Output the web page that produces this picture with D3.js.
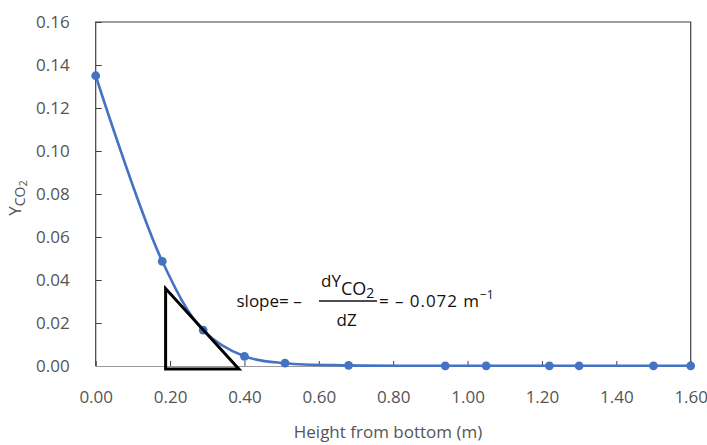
<!DOCTYPE html>
<html>
<head>
<meta charset="utf-8">
<script src="https://cdn.jsdelivr.net/npm/d3@7"></script>
<style>
  html, body { margin: 0; padding: 0; background: #fff; }
  svg { display: block; font-family: "Open Sans", "Noto Sans", sans-serif; }
</style>
</head>
<body>
<svg id="chart" width="707" height="445"></svg>
<script>
// Mole fraction of CO2 along the column height
const heights = [0.00, 0.179, 0.289, 0.40, 0.509, 0.68, 0.94, 1.05, 1.22, 1.30, 1.50, 1.60];
const yco2    = [0.135, 0.0487, 0.0167, 0.0045, 0.0013, 0.0003, 0.0001, 0.0001, 0.0001, 0.0001, 0.0001, 0.0001];

const xTicks = [0.00, 0.20, 0.40, 0.60, 0.80, 1.00, 1.20, 1.40, 1.60];
const yTicks = [0.00, 0.02, 0.04, 0.06, 0.08, 0.10, 0.12, 0.14, 0.16];

// Slope triangle drawn at the tangent point (x, y corners)
const triX = [0.188, 0.188, 0.385];
const triY = [0.036, -0.0014, -0.0014];

const W = 707, H = 445;
const m = { left: 95.7, right: W - 690.7, top: 22, bottom: H - 366 };

const svg = d3.select("#chart");
const x = d3.scaleLinear().domain([0, 1.6]).range([m.left, W - m.right]);
const y = d3.scaleLinear().domain([0, 0.16]).range([H - m.bottom, m.top]);

const grey = "#555";

// Plot frame: top, left and right edges
svg.append("path")
  .attr("d", `M${x(0)},${y(0)}V${y(0.16)}H${x(1.6)}V${y(0)}`)
  .attr("fill", "none").attr("stroke", "#404040").attr("stroke-width", 1.2);

// Y axis (ticks point into the plot)
const yAxis = d3.axisLeft(y).tickValues(yTicks).tickFormat(d3.format(".2f"))
  .tickSizeInner(-6).tickSizeOuter(0).tickPadding(26);
const gy = svg.append("g").attr("transform", `translate(${x(0)},0)`).call(yAxis);
gy.select(".domain").remove();
gy.selectAll(".tick line").attr("stroke", "#404040");
gy.selectAll(".tick text").attr("fill", grey).style("font-size", "17px")
  .attr("font-family", "'Open Sans', sans-serif");

// X axis
const xAxis = d3.axisBottom(x).tickValues(xTicks).tickFormat(d3.format(".2f"))
  .tickSizeInner(-5).tickSizeOuter(0).tickPadding(25);
const gx = svg.append("g").attr("transform", `translate(0,${y(0)})`).call(xAxis);
gx.select(".domain").attr("stroke", "#9a9a9a").attr("stroke-width", 1.2);
gx.selectAll(".tick line").attr("stroke", "#404040");
gx.selectAll(".tick text").attr("fill", grey).style("font-size", "17px")
  .attr("font-family", "'Open Sans', sans-serif");

// Axis titles
svg.append("text")
  .attr("x", 388).attr("y", 438)
  .attr("text-anchor", "middle").attr("fill", grey).style("font-size", "17px")
  .text("Height from bottom (m)");

const yt = svg.append("text")
  .attr("transform", `translate(21,${(y(0) + y(0.16)) / 2 + 4}) rotate(-90)`)
  .attr("text-anchor", "middle").attr("fill", grey).style("font-size", "17px");
yt.append("tspan").text("Y");
yt.append("tspan").attr("dy", 4).style("font-size", "14px").text("CO");
yt.append("tspan").attr("dy", 2).style("font-size", "11px").text("2");

// Data series: smoothed line and markers
const pts = heights.map((h, i) => [h, yco2[i]]);
const blue = "#4472C4";
svg.append("path")
  .datum(pts)
  .attr("fill", "none").attr("stroke", blue).attr("stroke-width", 2.6)
  .attr("d", d3.line().x(d => x(d[0])).y(d => y(d[1])).curve(d3.curveCatmullRom.alpha(0.5)));

svg.selectAll("circle.pt").data(pts).join("circle")
  .attr("class", "pt")
  .attr("cx", d => x(d[0])).attr("cy", d => y(d[1])).attr("r", 4.4)
  .attr("fill", blue);

// Slope triangle
const tri = triX.map((v, i) => [x(v), y(triY[i])]);
svg.append("path")
  .attr("d", d3.line()(tri) + "Z")
  .attr("fill", "none").attr("stroke", "#000").attr("stroke-width", 3)
  .attr("stroke-linejoin", "miter");

// Slope annotation
const ann = svg.append("g").attr("fill", "#111").style("font-size", "17px");
ann.append("text").attr("x", 236.5).attr("y", 307).text("slope= \u2013");
const num = ann.append("text").attr("x", 321).attr("y", 287);
num.append("tspan").text("dY");
num.append("tspan").attr("dy", 8).style("font-size", "18px").text("CO");
num.append("tspan").attr("dy", 3).style("font-size", "14px").text("2");
ann.append("line").attr("x1", 319).attr("x2", 377).attr("y1", 301).attr("y2", 301)
  .attr("stroke", "#111").attr("stroke-width", 1.5);
ann.append("text").attr("x", 336.5).attr("y", 326).text("dZ");
const rhs = ann.append("text").attr("x", 379).attr("y", 307);
rhs.append("tspan").attr("textLength", 100).text("= \u2013 0.072 m");
rhs.append("tspan").attr("dy", -8).style("font-size", "12px").text("\u22121");
</script>
</body>
</html>
